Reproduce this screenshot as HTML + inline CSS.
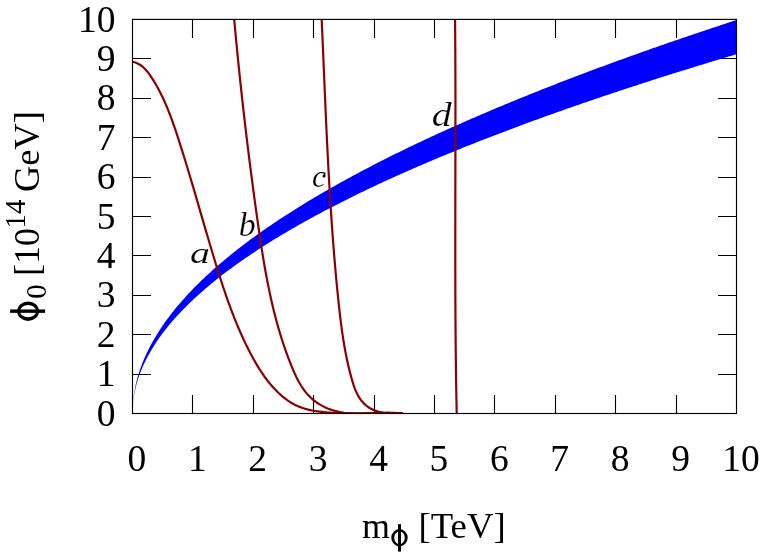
<!DOCTYPE html>
<html><head><meta charset="utf-8"><title>plot</title>
<style>
html,body{margin:0;padding:0;background:#fff;overflow:hidden;}
svg{display:block;will-change:transform;}
text{font-family:"Liberation Serif",serif;fill:#000;}
</style></head><body>
<svg width="763" height="558" viewBox="0 0 763 558">
<rect width="763" height="558" fill="#fff"/>
<path d="M192.5,413.5 v-18.5 M192.5,19.4 v18.5 M132.5,374.5 h18.5 M736.5,374.5 h-18.5 M253.5,413.5 v-18.5 M253.5,19.4 v18.5 M132.5,334.5 h18.5 M736.5,334.5 h-18.5 M313.5,413.5 v-18.5 M313.5,19.4 v18.5 M132.5,295.5 h18.5 M736.5,295.5 h-18.5 M374.5,413.5 v-18.5 M374.5,19.4 v18.5 M132.5,255.5 h18.5 M736.5,255.5 h-18.5 M434.5,413.5 v-18.5 M434.5,19.4 v18.5 M132.5,216.5 h18.5 M736.5,216.5 h-18.5 M494.5,413.5 v-18.5 M494.5,19.4 v18.5 M132.5,177.5 h18.5 M736.5,177.5 h-18.5 M555.5,413.5 v-18.5 M555.5,19.4 v18.5 M132.5,137.5 h18.5 M736.5,137.5 h-18.5 M615.5,413.5 v-18.5 M615.5,19.4 v18.5 M132.5,98.5 h18.5 M736.5,98.5 h-18.5 M676.5,413.5 v-18.5 M676.5,19.4 v18.5 M132.5,58.5 h18.5 M736.5,58.5 h-18.5" stroke="#000" stroke-width="1.1" fill="none"/>
<path d="M132.50,413.50 L132.81,404.59 L133.12,400.90 L133.43,398.07 L133.74,395.68 L134.05,393.58 L134.36,391.67 L134.67,389.93 L134.98,388.30 L135.29,386.77 L135.60,385.32 L135.91,383.95 L136.22,382.63 L136.53,381.37 L136.84,380.16 L137.15,378.99 L137.46,377.86 L137.77,376.76 L138.08,375.70 L138.39,374.66 L138.69,373.65 L139.00,372.67 L139.31,371.71 L139.62,370.77 L139.93,369.85 L140.24,368.95 L140.55,368.07 L140.86,367.20 L141.17,366.35 L141.48,365.52 L141.79,364.70 L142.10,363.89 L142.41,363.10 L142.72,362.31 L143.03,361.54 L143.34,360.79 L143.65,360.04 L143.96,359.30 L144.27,358.57 L144.58,357.86 L146.56,353.47 L148.54,349.38 L150.52,345.54 L152.50,341.90 L154.48,338.44 L156.46,335.14 L158.44,331.96 L160.42,328.91 L162.40,325.96 L164.38,323.11 L166.36,320.34 L168.34,317.66 L170.32,315.05 L172.30,312.50 L174.27,310.02 L176.25,307.60 L178.23,305.23 L180.21,302.91 L182.19,300.64 L184.17,298.41 L186.15,296.23 L188.13,294.09 L190.11,291.98 L192.09,289.91 L194.07,287.87 L196.05,285.87 L198.03,283.90 L200.01,281.95 L201.99,280.04 L203.97,278.15 L205.95,276.29 L207.93,274.45 L209.91,272.64 L211.89,270.85 L213.87,269.08 L215.85,267.34 L217.83,265.61 L219.81,263.91 L221.79,262.22 L223.77,260.55 L225.75,258.90 L227.73,257.27 L229.71,255.65 L231.69,254.05 L233.66,252.47 L235.64,250.90 L237.62,249.35 L239.60,247.81 L241.58,246.29 L243.56,244.78 L245.54,243.28 L247.52,241.80 L249.50,240.32 L251.48,238.87 L253.46,237.42 L255.44,235.98 L257.42,234.56 L259.40,233.15 L261.38,231.75 L263.36,230.36 L265.34,228.98 L267.32,227.61 L269.30,226.25 L271.28,224.90 L273.26,223.56 L275.24,222.22 L277.22,220.90 L279.20,219.59 L281.18,218.29 L283.16,216.99 L285.14,215.70 L287.12,214.42 L289.10,213.15 L291.08,211.89 L293.05,210.64 L295.03,209.39 L297.01,208.15 L298.99,206.92 L300.97,205.70 L302.95,204.48 L304.93,203.27 L306.91,202.06 L308.89,200.87 L310.87,199.68 L312.85,198.49 L314.83,197.32 L316.81,196.15 L318.79,194.98 L320.77,193.82 L322.75,192.67 L324.73,191.53 L326.71,190.39 L328.69,189.25 L330.67,188.12 L332.65,187.00 L334.63,185.88 L336.61,184.77 L338.59,183.67 L340.57,182.56 L342.55,181.47 L344.53,180.38 L346.51,179.29 L348.49,178.21 L350.47,177.13 L352.44,176.06 L354.42,175.00 L356.40,173.94 L358.38,172.88 L360.36,171.83 L362.34,170.78 L364.32,169.74 L366.30,168.70 L368.28,167.66 L370.26,166.63 L372.24,165.61 L374.22,164.59 L376.20,163.57 L378.18,162.56 L380.16,161.55 L382.14,160.54 L384.12,159.54 L386.10,158.54 L388.08,157.55 L390.06,156.56 L392.04,155.58 L394.02,154.59 L396.00,153.62 L397.98,152.64 L399.96,151.67 L401.94,150.70 L403.92,149.74 L405.90,148.78 L407.88,147.82 L409.86,146.87 L411.83,145.92 L413.81,144.97 L415.79,144.03 L417.77,143.09 L419.75,142.15 L421.73,141.22 L423.71,140.29 L425.69,139.36 L427.67,138.44 L429.65,137.52 L431.63,136.60 L433.61,135.69 L435.59,134.77 L437.57,133.87 L439.55,132.96 L441.53,132.06 L443.51,131.16 L445.49,130.26 L447.47,129.37 L449.45,128.47 L451.43,127.59 L453.41,126.70 L455.39,125.82 L457.37,124.94 L459.35,124.06 L461.33,123.18 L463.31,122.31 L465.29,121.44 L467.27,120.57 L469.25,119.71 L471.22,118.85 L473.20,117.99 L475.18,117.13 L477.16,116.27 L479.14,115.42 L481.12,114.57 L483.10,113.72 L485.08,112.88 L487.06,112.04 L489.04,111.20 L491.02,110.36 L493.00,109.52 L494.98,108.69 L496.96,107.86 L498.94,107.03 L500.92,106.20 L502.90,105.38 L504.88,104.55 L506.86,103.73 L508.84,102.92 L510.82,102.10 L512.80,101.29 L514.78,100.47 L516.76,99.67 L518.74,98.86 L520.72,98.05 L522.70,97.25 L524.68,96.45 L526.66,95.65 L528.64,94.85 L530.61,94.06 L532.59,93.26 L534.57,92.47 L536.55,91.68 L538.53,90.90 L540.51,90.11 L542.49,89.33 L544.47,88.54 L546.45,87.76 L548.43,86.99 L550.41,86.21 L552.39,85.44 L554.37,84.66 L556.35,83.89 L558.33,83.12 L560.31,82.36 L562.29,81.59 L564.27,80.83 L566.25,80.07 L568.23,79.31 L570.21,78.55 L572.19,77.79 L574.17,77.04 L576.15,76.28 L578.13,75.53 L580.11,74.78 L582.09,74.03 L584.07,73.29 L586.05,72.54 L588.03,71.80 L590.00,71.06 L591.98,70.32 L593.96,69.58 L595.94,68.84 L597.92,68.11 L599.90,67.37 L601.88,66.64 L603.86,65.91 L605.84,65.18 L607.82,64.45 L609.80,63.73 L611.78,63.00 L613.76,62.28 L615.74,61.56 L617.72,60.84 L619.70,60.12 L621.68,59.40 L623.66,58.69 L625.64,57.97 L627.62,57.26 L629.60,56.55 L631.58,55.84 L633.56,55.13 L635.54,54.42 L637.52,53.72 L639.50,53.01 L641.48,52.31 L643.46,51.61 L645.44,50.91 L647.42,50.21 L649.39,49.51 L651.37,48.81 L653.35,48.12 L655.33,47.42 L657.31,46.73 L659.29,46.04 L661.27,45.35 L663.25,44.66 L665.23,43.97 L667.21,43.29 L669.19,42.60 L671.17,41.92 L673.15,41.24 L675.13,40.56 L677.11,39.88 L679.09,39.20 L681.07,38.52 L683.05,37.85 L685.03,37.17 L687.01,36.50 L688.99,35.83 L690.97,35.15 L692.95,34.48 L694.93,33.82 L696.91,33.15 L698.89,32.48 L700.87,31.82 L702.85,31.15 L704.83,30.49 L706.81,29.83 L708.78,29.17 L710.76,28.51 L712.74,27.85 L714.72,27.19 L716.70,26.53 L718.68,25.88 L720.66,25.23 L722.64,24.57 L724.62,23.92 L726.60,23.27 L728.58,22.62 L730.56,21.97 L732.54,21.32 L734.52,20.68 L736.50,20.03 L736.50,54.23 L734.52,54.82 L732.54,55.41 L730.56,56.00 L728.58,56.59 L726.60,57.19 L724.62,57.78 L722.64,58.38 L720.66,58.97 L718.68,59.57 L716.70,60.17 L714.72,60.77 L712.74,61.37 L710.76,61.97 L708.78,62.57 L706.81,63.17 L704.83,63.78 L702.85,64.38 L700.87,64.99 L698.89,65.60 L696.91,66.20 L694.93,66.81 L692.95,67.43 L690.97,68.04 L688.99,68.65 L687.01,69.26 L685.03,69.88 L683.05,70.49 L681.07,71.11 L679.09,71.73 L677.11,72.35 L675.13,72.97 L673.15,73.59 L671.17,74.22 L669.19,74.84 L667.21,75.46 L665.23,76.09 L663.25,76.72 L661.27,77.35 L659.29,77.98 L657.31,78.61 L655.33,79.24 L653.35,79.87 L651.37,80.51 L649.39,81.14 L647.42,81.78 L645.44,82.42 L643.46,83.06 L641.48,83.70 L639.50,84.34 L637.52,84.98 L635.54,85.63 L633.56,86.28 L631.58,86.92 L629.60,87.57 L627.62,88.22 L625.64,88.87 L623.66,89.52 L621.68,90.18 L619.70,90.83 L617.72,91.49 L615.74,92.15 L613.76,92.80 L611.78,93.46 L609.80,94.13 L607.82,94.79 L605.84,95.45 L603.86,96.12 L601.88,96.79 L599.90,97.46 L597.92,98.13 L595.94,98.80 L593.96,99.47 L591.98,100.14 L590.00,100.82 L588.03,101.50 L586.05,102.18 L584.07,102.86 L582.09,103.54 L580.11,104.22 L578.13,104.91 L576.15,105.59 L574.17,106.28 L572.19,106.97 L570.21,107.66 L568.23,108.35 L566.25,109.05 L564.27,109.74 L562.29,110.44 L560.31,111.14 L558.33,111.84 L556.35,112.54 L554.37,113.24 L552.39,113.95 L550.41,114.66 L548.43,115.36 L546.45,116.07 L544.47,116.79 L542.49,117.50 L540.51,118.22 L538.53,118.93 L536.55,119.65 L534.57,120.37 L532.59,121.10 L530.61,121.82 L528.64,122.55 L526.66,123.27 L524.68,124.00 L522.70,124.74 L520.72,125.47 L518.74,126.20 L516.76,126.94 L514.78,127.68 L512.80,128.42 L510.82,129.16 L508.84,129.91 L506.86,130.66 L504.88,131.41 L502.90,132.16 L500.92,132.91 L498.94,133.66 L496.96,134.42 L494.98,135.18 L493.00,135.94 L491.02,136.70 L489.04,137.47 L487.06,138.24 L485.08,139.01 L483.10,139.78 L481.12,140.55 L479.14,141.33 L477.16,142.11 L475.18,142.89 L473.20,143.67 L471.22,144.45 L469.25,145.24 L467.27,146.03 L465.29,146.82 L463.31,147.62 L461.33,148.41 L459.35,149.21 L457.37,150.02 L455.39,150.82 L453.41,151.63 L451.43,152.43 L449.45,153.25 L447.47,154.06 L445.49,154.88 L443.51,155.70 L441.53,156.52 L439.55,157.34 L437.57,158.17 L435.59,159.00 L433.61,159.83 L431.63,160.67 L429.65,161.51 L427.67,162.35 L425.69,163.19 L423.71,164.04 L421.73,164.89 L419.75,165.74 L417.77,166.59 L415.79,167.45 L413.81,168.31 L411.83,169.18 L409.86,170.04 L407.88,170.91 L405.90,171.79 L403.92,172.66 L401.94,173.54 L399.96,174.43 L397.98,175.31 L396.00,176.20 L394.02,177.10 L392.04,177.99 L390.06,178.89 L388.08,179.80 L386.10,180.70 L384.12,181.61 L382.14,182.53 L380.16,183.45 L378.18,184.37 L376.20,185.29 L374.22,186.22 L372.24,187.15 L370.26,188.09 L368.28,189.03 L366.30,189.97 L364.32,190.92 L362.34,191.88 L360.36,192.83 L358.38,193.79 L356.40,194.76 L354.42,195.73 L352.44,196.70 L350.47,197.68 L348.49,198.66 L346.51,199.65 L344.53,200.64 L342.55,201.63 L340.57,202.64 L338.59,203.64 L336.61,204.65 L334.63,205.67 L332.65,206.69 L330.67,207.71 L328.69,208.74 L326.71,209.78 L324.73,210.82 L322.75,211.87 L320.77,212.92 L318.79,213.97 L316.81,215.04 L314.83,216.11 L312.85,217.18 L310.87,218.26 L308.89,219.35 L306.91,220.44 L304.93,221.54 L302.95,222.64 L300.97,223.76 L298.99,224.87 L297.01,226.00 L295.03,227.13 L293.05,228.27 L291.08,229.41 L289.10,230.57 L287.12,231.73 L285.14,232.89 L283.16,234.07 L281.18,235.25 L279.20,236.44 L277.22,237.64 L275.24,238.85 L273.26,240.06 L271.28,241.29 L269.30,242.52 L267.32,243.76 L265.34,245.01 L263.36,246.27 L261.38,247.54 L259.40,248.82 L257.42,250.11 L255.44,251.41 L253.46,252.72 L251.48,254.04 L249.50,255.38 L247.52,256.72 L245.54,258.07 L243.56,259.44 L241.58,260.82 L239.60,262.21 L237.62,263.62 L235.64,265.03 L233.66,266.47 L231.69,267.91 L229.71,269.37 L227.73,270.85 L225.75,272.34 L223.77,273.84 L221.79,275.37 L219.81,276.91 L217.83,278.46 L215.85,280.04 L213.87,281.63 L211.89,283.25 L209.91,284.88 L207.93,286.54 L205.95,288.22 L203.97,289.92 L201.99,291.64 L200.01,293.39 L198.03,295.16 L196.05,296.96 L194.07,298.79 L192.09,300.65 L190.11,302.54 L188.13,304.46 L186.15,306.42 L184.17,308.42 L182.19,310.45 L180.21,312.52 L178.23,314.64 L176.25,316.80 L174.27,319.02 L172.30,321.28 L170.32,323.60 L168.34,325.99 L166.36,328.44 L164.38,330.96 L162.40,333.57 L160.42,336.26 L158.44,339.05 L156.46,341.95 L154.48,344.97 L152.50,348.13 L150.52,351.45 L148.54,354.95 L146.56,358.69 L144.58,362.69 L144.27,363.35 L143.96,364.01 L143.65,364.68 L143.34,365.37 L143.03,366.06 L142.72,366.76 L142.41,367.48 L142.10,368.20 L141.79,368.94 L141.48,369.69 L141.17,370.45 L140.86,371.22 L140.55,372.02 L140.24,372.82 L139.93,373.64 L139.62,374.48 L139.31,375.34 L139.00,376.22 L138.69,377.12 L138.39,378.04 L138.08,378.98 L137.77,379.95 L137.46,380.96 L137.15,381.99 L136.84,383.06 L136.53,384.17 L136.22,385.32 L135.91,386.52 L135.60,387.77 L135.29,389.09 L134.98,390.49 L134.67,391.97 L134.36,393.57 L134.05,395.31 L133.74,397.23 L133.43,399.41 L133.12,401.99 L132.81,405.36 L132.50,413.50 Z" fill="#0000ff"/>
<clipPath id="pc"><rect x="132.5" y="19.4" width="604.0" height="394.1"/></clipPath>
<g clip-path="url(#pc)">
<path d="M132.44,61.74 L134.61,62.30 L136.63,63.04 L138.52,63.95 L140.29,65.01 L141.95,66.20 L143.51,67.51 L144.97,68.93 L146.36,70.44 L147.68,72.02 L148.93,73.67 L150.14,75.37 L151.30,77.10 L152.44,78.84 L153.55,80.61 L154.63,82.38 L155.69,84.17 L156.72,85.97 L157.73,87.79 L158.72,89.61 L159.69,91.45 L160.63,93.30 L161.55,95.15 L162.46,97.02 L163.34,98.90 L164.20,100.79 L165.05,102.69 L165.88,104.59 L166.69,106.51 L167.49,108.43 L168.28,110.36 L169.04,112.29 L169.80,114.23 L170.54,116.18 L171.27,118.14 L171.99,120.10 L172.70,122.06 L173.39,124.03 L174.08,126.00 L174.76,127.97 L175.43,129.95 L176.10,131.93 L176.76,133.92 L177.41,135.90 L178.06,137.89 L178.70,139.87 L179.34,141.86 L179.98,143.85 L180.61,145.84 L181.24,147.83 L181.87,149.82 L182.50,151.81 L183.12,153.80 L183.74,155.79 L184.35,157.78 L184.97,159.77 L185.58,161.76 L186.19,163.75 L186.79,165.74 L187.40,167.74 L188.00,169.73 L188.60,171.72 L189.20,173.71 L189.80,175.71 L190.39,177.70 L190.99,179.70 L191.58,181.69 L192.17,183.68 L192.76,185.68 L193.34,187.67 L193.93,189.67 L194.52,191.66 L195.10,193.66 L195.68,195.65 L196.27,197.65 L196.85,199.64 L197.43,201.64 L198.01,203.63 L198.59,205.63 L199.17,207.63 L199.75,209.62 L200.33,211.62 L200.91,213.61 L201.49,215.61 L202.07,217.60 L202.65,219.60 L203.23,221.59 L203.81,223.59 L204.40,225.58 L204.98,227.58 L205.56,229.57 L206.14,231.57 L206.73,233.56 L207.32,235.56 L207.90,237.55 L208.49,239.55 L209.08,241.54 L209.67,243.54 L210.26,245.53 L210.86,247.52 L211.45,249.52 L212.05,251.51 L212.65,253.50 L213.25,255.49 L213.85,257.49 L214.46,259.48 L215.06,261.47 L215.67,263.46 L216.29,265.45 L216.90,267.44 L217.52,269.43 L218.14,271.42 L218.77,273.41 L219.39,275.39 L220.03,277.38 L220.66,279.36 L221.30,281.34 L221.95,283.32 L222.60,285.30 L223.26,287.28 L223.92,289.26 L224.58,291.23 L225.26,293.20 L225.93,295.17 L226.62,297.14 L227.31,299.10 L228.00,301.06 L228.71,303.02 L229.42,304.98 L230.14,306.93 L230.86,308.88 L231.59,310.83 L232.34,312.77 L233.08,314.72 L233.84,316.65 L234.61,318.59 L235.38,320.52 L236.16,322.44 L236.96,324.37 L237.76,326.28 L238.57,328.20 L239.39,330.11 L240.22,332.01 L241.07,333.92 L241.92,335.81 L242.78,337.71 L243.65,339.59 L244.54,341.47 L245.44,343.35 L246.34,345.22 L247.26,347.09 L248.20,348.95 L249.14,350.81 L250.10,352.66 L251.06,354.50 L252.05,356.34 L253.04,358.17 L254.05,360.00 L255.08,361.81 L256.13,363.62 L257.19,365.41 L258.27,367.19 L259.37,368.96 L260.49,370.72 L261.63,372.46 L262.80,374.18 L263.99,375.89 L265.20,377.58 L266.44,379.25 L267.71,380.90 L269.00,382.53 L270.32,384.14 L271.67,385.72 L273.06,387.28 L274.47,388.82 L275.92,390.33 L277.39,391.81 L278.90,393.26 L280.45,394.67 L282.02,396.04 L283.63,397.37 L285.27,398.65 L286.94,399.89 L288.65,401.07 L290.38,402.20 L292.15,403.26 L293.96,404.26 L295.79,405.20 L297.66,406.07 L299.57,406.86 L301.50,407.59 L303.46,408.25 L305.44,408.85 L307.45,409.39 L309.48,409.88 L311.52,410.32 L313.58,410.71 L315.65,411.06 L317.72,411.37 L319.81,411.65 L321.89,411.90 L323.98,412.12 L326.06,412.32 L328.14,412.50 L330.23,412.66 L332.31,412.80 L334.39,412.92 L336.46,413.02 L338.54,413.11 L340.62,413.18 L342.70,413.24 L344.77,413.28 L346.85,413.31 L348.92,413.33 L350.99,413.34 L353.07,413.34 L355.14,413.34 L357.22,413.33 L359.29,413.31 L361.36,413.29 L363.44,413.26 L365.51,413.23 L367.59,413.20 L369.66,413.18 L371.74,413.15 L373.81,413.12 L375.89,413.10 L377.97,413.08 L380.05,413.07 L382.13,413.06 L384.21,413.07 L386.29,413.08 L388.37,413.10 L390.46,413.13 L392.54,413.17 L394.63,413.23 L396.72,413.30 L398.81,413.38 L400.91,413.49 L403.00,413.61" fill="none" stroke="#8b0000" stroke-width="2.2" stroke-linejoin="round"/>
<path d="M234.20,19.38 L234.38,21.40 L234.57,23.43 L234.75,25.46 L234.94,27.48 L235.13,29.51 L235.32,31.54 L235.51,33.56 L235.70,35.59 L235.89,37.61 L236.08,39.64 L236.28,41.66 L236.47,43.68 L236.67,45.71 L236.86,47.73 L237.06,49.76 L237.26,51.78 L237.46,53.80 L237.66,55.83 L237.86,57.85 L238.07,59.87 L238.27,61.89 L238.48,63.91 L238.68,65.94 L238.89,67.96 L239.10,69.98 L239.31,72.00 L239.52,74.02 L239.73,76.04 L239.94,78.06 L240.15,80.08 L240.37,82.10 L240.58,84.12 L240.80,86.14 L241.01,88.16 L241.23,90.18 L241.45,92.20 L241.67,94.22 L241.89,96.24 L242.12,98.26 L242.34,100.28 L242.56,102.30 L242.79,104.31 L243.01,106.33 L243.24,108.35 L243.47,110.37 L243.70,112.39 L243.93,114.40 L244.16,116.42 L244.39,118.44 L244.63,120.45 L244.86,122.47 L245.10,124.49 L245.33,126.51 L245.57,128.52 L245.81,130.54 L246.05,132.55 L246.29,134.57 L246.53,136.59 L246.77,138.60 L247.02,140.62 L247.26,142.63 L247.51,144.65 L247.75,146.67 L248.00,148.68 L248.25,150.70 L248.50,152.71 L248.75,154.73 L249.00,156.74 L249.26,158.76 L249.51,160.77 L249.77,162.79 L250.02,164.80 L250.28,166.82 L250.54,168.83 L250.80,170.85 L251.06,172.86 L251.32,174.88 L251.58,176.89 L251.84,178.91 L252.11,180.92 L252.37,182.93 L252.64,184.95 L252.91,186.96 L253.18,188.98 L253.45,190.99 L253.72,193.01 L253.99,195.02 L254.26,197.03 L254.54,199.05 L254.81,201.06 L255.09,203.08 L255.36,205.09 L255.64,207.10 L255.92,209.12 L256.20,211.13 L256.48,213.15 L256.77,215.16 L257.05,217.18 L257.33,219.19 L257.62,221.20 L257.91,223.22 L258.20,225.23 L258.48,227.25 L258.78,229.26 L259.07,231.27 L259.36,233.29 L259.66,235.30 L259.96,237.31 L260.26,239.32 L260.56,241.34 L260.87,243.35 L261.18,245.36 L261.49,247.37 L261.81,249.38 L262.13,251.39 L262.45,253.40 L262.77,255.41 L263.10,257.41 L263.44,259.42 L263.77,261.43 L264.12,263.43 L264.46,265.43 L264.81,267.44 L265.16,269.44 L265.52,271.44 L265.89,273.44 L266.26,275.44 L266.63,277.43 L267.01,279.43 L267.40,281.43 L267.79,283.42 L268.18,285.41 L268.59,287.40 L268.99,289.39 L269.41,291.38 L269.83,293.36 L270.26,295.35 L270.69,297.33 L271.13,299.31 L271.58,301.29 L272.04,303.27 L272.50,305.25 L272.97,307.22 L273.45,309.19 L273.93,311.16 L274.42,313.13 L274.92,315.10 L275.43,317.06 L275.95,319.03 L276.48,320.99 L277.01,322.94 L277.55,324.90 L278.11,326.85 L278.67,328.80 L279.24,330.75 L279.82,332.70 L280.41,334.64 L281.01,336.58 L281.61,338.52 L282.23,340.46 L282.86,342.39 L283.50,344.32 L284.15,346.25 L284.81,348.18 L285.48,350.10 L286.16,352.02 L286.85,353.94 L287.56,355.85 L288.27,357.76 L289.00,359.67 L289.74,361.57 L290.49,363.47 L291.25,365.37 L292.02,367.27 L292.81,369.16 L293.61,371.04 L294.43,372.92 L295.28,374.78 L296.15,376.63 L297.05,378.46 L297.98,380.26 L298.94,382.05 L299.95,383.80 L300.99,385.53 L302.08,387.23 L303.21,388.89 L304.40,390.51 L305.64,392.10 L306.94,393.64 L308.29,395.13 L309.70,396.57 L311.16,397.97 L312.67,399.31 L314.24,400.59 L315.86,401.82 L317.52,402.98 L319.23,404.09 L320.98,405.13 L322.76,406.12 L324.58,407.04 L326.43,407.89 L328.31,408.68 L330.21,409.41 L332.14,410.07 L334.09,410.66 L336.05,411.19 L338.03,411.67 L340.02,412.08 L342.03,412.44 L344.04,412.75 L346.06,413.00 L348.09,413.21 L350.12,413.37 L352.15,413.49 L354.19,413.58 L356.23,413.63 L358.27,413.65 L360.32,413.64 L362.37,413.61 L364.42,413.56 L366.47,413.49 L368.52,413.41 L370.57,413.32 L372.61,413.23 L374.66,413.13 L376.71,413.04 L378.76,412.95 L380.80,412.87 L382.84,412.80 L384.88,412.75 L386.91,412.72 L388.94,412.71 L390.96,412.73 L392.98,412.78 L394.99,412.86 L397.00,412.98 L399.00,413.14 L401.00,413.34 L402.99,413.60" fill="none" stroke="#8b0000" stroke-width="2.2" stroke-linejoin="round"/>
<path d="M321.67,19.41 L321.76,21.21 L321.84,23.01 L321.92,24.80 L322.00,26.60 L322.08,28.40 L322.16,30.19 L322.23,31.99 L322.31,33.79 L322.39,35.58 L322.47,37.38 L322.55,39.18 L322.63,40.98 L322.70,42.77 L322.78,44.57 L322.86,46.37 L322.94,48.17 L323.01,49.97 L323.09,51.77 L323.17,53.56 L323.24,55.36 L323.32,57.16 L323.40,58.96 L323.47,60.76 L323.55,62.56 L323.63,64.36 L323.70,66.16 L323.78,67.96 L323.85,69.76 L323.93,71.56 L324.01,73.36 L324.08,75.16 L324.16,76.96 L324.24,78.76 L324.31,80.56 L324.39,82.36 L324.47,84.16 L324.54,85.96 L324.62,87.76 L324.70,89.56 L324.77,91.36 L324.85,93.16 L324.93,94.96 L325.01,96.76 L325.08,98.56 L325.16,100.36 L325.24,102.16 L325.32,103.97 L325.40,105.77 L325.48,107.57 L325.56,109.37 L325.64,111.17 L325.72,112.97 L325.80,114.77 L325.88,116.57 L325.96,118.38 L326.04,120.18 L326.12,121.98 L326.21,123.78 L326.29,125.58 L326.37,127.38 L326.46,129.18 L326.54,130.98 L326.62,132.79 L326.71,134.59 L326.79,136.39 L326.88,138.19 L326.97,139.99 L327.05,141.79 L327.14,143.59 L327.23,145.40 L327.32,147.20 L327.41,149.00 L327.50,150.80 L327.59,152.60 L327.68,154.40 L327.77,156.20 L327.86,158.00 L327.96,159.80 L328.05,161.61 L328.14,163.41 L328.24,165.21 L328.33,167.01 L328.43,168.81 L328.53,170.61 L328.63,172.41 L328.73,174.21 L328.82,176.01 L328.92,177.81 L329.03,179.61 L329.13,181.41 L329.23,183.21 L329.33,185.01 L329.44,186.81 L329.54,188.61 L329.65,190.41 L329.76,192.21 L329.87,194.01 L329.97,195.81 L330.08,197.61 L330.19,199.41 L330.31,201.21 L330.42,203.01 L330.53,204.81 L330.65,206.61 L330.76,208.41 L330.88,210.21 L331.00,212.00 L331.12,213.80 L331.24,215.60 L331.36,217.40 L331.48,219.20 L331.60,220.99 L331.73,222.79 L331.85,224.59 L331.98,226.39 L332.11,228.19 L332.24,229.98 L332.37,231.78 L332.50,233.58 L332.63,235.37 L332.76,237.17 L332.90,238.97 L333.04,240.76 L333.17,242.56 L333.31,244.35 L333.45,246.15 L333.59,247.95 L333.74,249.74 L333.88,251.54 L334.03,253.33 L334.17,255.13 L334.32,256.92 L334.47,258.71 L334.62,260.51 L334.77,262.30 L334.93,264.10 L335.08,265.89 L335.24,267.68 L335.40,269.48 L335.56,271.27 L335.72,273.06 L335.88,274.85 L336.05,276.65 L336.21,278.44 L336.38,280.23 L336.55,282.02 L336.72,283.81 L336.89,285.60 L337.06,287.39 L337.24,289.19 L337.42,290.98 L337.59,292.77 L337.77,294.56 L337.96,296.34 L338.14,298.13 L338.32,299.92 L338.51,301.71 L338.70,303.50 L338.89,305.29 L339.08,307.08 L339.28,308.86 L339.48,310.65 L339.68,312.44 L339.89,314.22 L340.10,316.01 L340.31,317.80 L340.53,319.58 L340.75,321.37 L340.97,323.15 L341.20,324.93 L341.44,326.72 L341.68,328.50 L341.93,330.28 L342.18,332.06 L342.44,333.85 L342.70,335.63 L342.97,337.41 L343.25,339.19 L343.53,340.96 L343.82,342.74 L344.12,344.52 L344.43,346.30 L344.74,348.07 L345.06,349.85 L345.39,351.62 L345.73,353.40 L346.08,355.17 L346.44,356.94 L346.80,358.72 L347.18,360.49 L347.56,362.26 L347.96,364.03 L348.37,365.79 L348.78,367.56 L349.21,369.33 L349.65,371.10 L350.09,372.86 L350.55,374.62 L351.03,376.39 L351.51,378.15 L352.01,379.91 L352.52,381.66 L353.06,383.41 L353.62,385.14 L354.22,386.86 L354.85,388.56 L355.52,390.23 L356.24,391.88 L357.01,393.50 L357.83,395.08 L358.71,396.62 L359.66,398.13 L360.67,399.59 L361.75,400.99 L362.90,402.34 L364.12,403.63 L365.41,404.84 L366.75,405.98 L368.17,407.03 L369.65,407.99 L371.19,408.85 L372.79,409.63 L374.43,410.31 L376.13,410.92 L377.86,411.45 L379.63,411.90 L381.42,412.29 L383.24,412.62 L385.08,412.89 L386.92,413.11 L388.78,413.28 L390.63,413.41 L392.47,413.50 L394.31,413.55 L396.13,413.58 L397.92,413.59 L399.69,413.57 L401.42,413.55 L403.11,413.51" fill="none" stroke="#8b0000" stroke-width="2.2" stroke-linejoin="round"/>
<path d="M455.06,19.40 L455.08,21.05 L455.09,22.70 L455.11,24.35 L455.12,25.99 L455.14,27.64 L455.15,29.29 L455.16,30.94 L455.17,32.58 L455.19,34.23 L455.20,35.88 L455.21,37.53 L455.22,39.18 L455.23,40.82 L455.24,42.47 L455.25,44.12 L455.26,45.77 L455.27,47.42 L455.28,49.07 L455.29,50.71 L455.30,52.36 L455.31,54.01 L455.32,55.66 L455.32,57.31 L455.33,58.95 L455.34,60.60 L455.34,62.25 L455.35,63.90 L455.36,65.55 L455.36,67.20 L455.37,68.84 L455.38,70.49 L455.38,72.14 L455.39,73.79 L455.39,75.44 L455.40,77.08 L455.40,78.73 L455.40,80.38 L455.41,82.03 L455.41,83.68 L455.42,85.33 L455.42,86.97 L455.42,88.62 L455.42,90.27 L455.43,91.92 L455.43,93.57 L455.43,95.22 L455.43,96.86 L455.44,98.51 L455.44,100.16 L455.44,101.81 L455.44,103.46 L455.44,105.11 L455.44,106.75 L455.44,108.40 L455.44,110.05 L455.44,111.70 L455.44,113.35 L455.44,115.00 L455.44,116.65 L455.44,118.29 L455.44,119.94 L455.44,121.59 L455.44,123.24 L455.44,124.89 L455.44,126.54 L455.44,128.18 L455.44,129.83 L455.44,131.48 L455.44,133.13 L455.43,134.78 L455.43,136.43 L455.43,138.08 L455.43,139.72 L455.43,141.37 L455.42,143.02 L455.42,144.67 L455.42,146.32 L455.42,147.97 L455.42,149.61 L455.41,151.26 L455.41,152.91 L455.41,154.56 L455.41,156.21 L455.40,157.86 L455.40,159.51 L455.40,161.15 L455.39,162.80 L455.39,164.45 L455.39,166.10 L455.39,167.75 L455.38,169.40 L455.38,171.05 L455.38,172.69 L455.37,174.34 L455.37,175.99 L455.37,177.64 L455.37,179.29 L455.36,180.94 L455.36,182.59 L455.36,184.23 L455.35,185.88 L455.35,187.53 L455.35,189.18 L455.34,190.83 L455.34,192.48 L455.34,194.13 L455.34,195.77 L455.33,197.42 L455.33,199.07 L455.33,200.72 L455.32,202.37 L455.32,204.02 L455.32,205.67 L455.32,207.31 L455.31,208.96 L455.31,210.61 L455.31,212.26 L455.31,213.91 L455.30,215.56 L455.30,217.21 L455.30,218.85 L455.30,220.50 L455.30,222.15 L455.29,223.80 L455.29,225.45 L455.29,227.10 L455.29,228.75 L455.29,230.39 L455.29,232.04 L455.29,233.69 L455.28,235.34 L455.28,236.99 L455.28,238.64 L455.28,240.28 L455.28,241.93 L455.28,243.58 L455.28,245.23 L455.28,246.88 L455.28,248.53 L455.28,250.18 L455.28,251.82 L455.28,253.47 L455.28,255.12 L455.28,256.77 L455.28,258.42 L455.29,260.07 L455.29,261.71 L455.29,263.36 L455.29,265.01 L455.29,266.66 L455.29,268.31 L455.30,269.96 L455.30,271.61 L455.30,273.25 L455.30,274.90 L455.31,276.55 L455.31,278.20 L455.32,279.85 L455.32,281.50 L455.32,283.14 L455.33,284.79 L455.33,286.44 L455.34,288.09 L455.34,289.74 L455.35,291.39 L455.35,293.03 L455.36,294.68 L455.36,296.33 L455.37,297.98 L455.38,299.63 L455.38,301.27 L455.39,302.92 L455.40,304.57 L455.41,306.22 L455.42,307.87 L455.42,309.52 L455.43,311.16 L455.44,312.81 L455.45,314.46 L455.46,316.11 L455.47,317.76 L455.48,319.41 L455.49,321.05 L455.50,322.70 L455.51,324.35 L455.52,326.00 L455.54,327.65 L455.55,329.29 L455.56,330.94 L455.57,332.59 L455.59,334.24 L455.60,335.89 L455.61,337.53 L455.63,339.18 L455.64,340.83 L455.66,342.48 L455.67,344.13 L455.69,345.77 L455.70,347.42 L455.72,349.07 L455.74,350.72 L455.76,352.37 L455.77,354.01 L455.79,355.66 L455.81,357.31 L455.83,358.96 L455.85,360.60 L455.87,362.25 L455.89,363.90 L455.91,365.55 L455.93,367.20 L455.95,368.84 L455.97,370.49 L455.99,372.14 L456.02,373.79 L456.04,375.43 L456.06,377.08 L456.09,378.73 L456.11,380.38 L456.14,382.03 L456.16,383.67 L456.19,385.32 L456.21,386.97 L456.24,388.62 L456.27,390.26 L456.30,391.91 L456.33,393.56 L456.35,395.21 L456.38,396.85 L456.41,398.50 L456.44,400.15 L456.47,401.80 L456.51,403.44 L456.54,405.09 L456.57,406.74 L456.60,408.39 L456.64,410.03 L456.67,411.68 L456.70,413.33" fill="none" stroke="#8b0000" stroke-width="2.2" stroke-linejoin="round"/>
</g>
<rect x="132.5" y="19.4" width="604.0" height="394.1" fill="none" stroke="#000" stroke-width="1.15"/>
<g font-size="37.5">
<text x="136.90" y="470.6" text-anchor="middle">0</text>
<text x="115.6" y="425.70" text-anchor="end">0</text>
<text x="197.30" y="470.6" text-anchor="middle">1</text>
<text x="115.6" y="386.29" text-anchor="end">1</text>
<text x="257.70" y="470.6" text-anchor="middle">2</text>
<text x="115.6" y="346.88" text-anchor="end">2</text>
<text x="318.10" y="470.6" text-anchor="middle">3</text>
<text x="115.6" y="307.47" text-anchor="end">3</text>
<text x="378.50" y="470.6" text-anchor="middle">4</text>
<text x="115.6" y="268.06" text-anchor="end">4</text>
<text x="438.90" y="470.6" text-anchor="middle">5</text>
<text x="115.6" y="228.65" text-anchor="end">5</text>
<text x="499.30" y="470.6" text-anchor="middle">6</text>
<text x="115.6" y="189.24" text-anchor="end">6</text>
<text x="559.70" y="470.6" text-anchor="middle">7</text>
<text x="115.6" y="149.83" text-anchor="end">7</text>
<text x="620.10" y="470.6" text-anchor="middle">8</text>
<text x="115.6" y="110.42" text-anchor="end">8</text>
<text x="680.50" y="470.6" text-anchor="middle">9</text>
<text x="115.6" y="71.01" text-anchor="end">9</text>
<text x="740.90" y="470.6" text-anchor="middle">10</text>
<text x="115.6" y="31.60" text-anchor="end">10</text>
</g>
<text transform="translate(189.91,262.69) scale(0.3999,0.3015)" font-size="100" font-style="italic" stroke="#fff" stroke-width="0.6">a</text>
<text transform="translate(238.65,235.78) scale(0.3375,0.3311)" font-size="100" font-style="italic" stroke="#fff" stroke-width="0.6">b</text>
<text transform="translate(312.02,186.69) scale(0.3181,0.3140)" font-size="100" font-style="italic" stroke="#fff" stroke-width="0.6">c</text>
<text transform="translate(431.79,125.66) scale(0.3982,0.3323)" font-size="100" font-style="italic" stroke="#fff" stroke-width="0.6">d</text>

<circle cx="324.0" cy="175.9" r="1.5" fill="#000"/>
<!-- x label -->
<g font-size="36">
<text x="361.9" y="537.7">m</text>
<text transform="translate(418.5,537.7) scale(1.02,1)">[TeV]</text>
</g>
<g transform="translate(399.5,537.75) rotate(0)"><path d="M-8.2,0 A8.2,8.65 0 1,0 8.2,0 A8.2,8.65 0 1,0 -8.2,0 Z M-5.3,0 A5.3,6.35 0 1,0 5.3,0 A5.3,6.35 0 1,0 -5.3,0 Z" fill="#000" fill-rule="evenodd"/><rect x="-1.5" y="-13.55" width="3.0" height="27.4" fill="#000"/></g>
<!-- y label -->
<g transform="translate(39.1,321.5) rotate(-90)" font-size="36">
<text x="22.8" y="7.1" font-size="28.8">0</text>
<text x="45.5" y="0">[10</text>
<text x="93.0" y="-14.1" font-size="28.8">14</text>
<text transform="translate(129.4,0) scale(1.012,1)">GeV]</text>
</g>
<g transform="translate(28.1,311.15) rotate(-90)"><path d="M-9.75,0 A9.75,10.9 0 1,0 9.75,0 A9.75,10.9 0 1,0 -9.75,0 Z M-6.05,0 A6.05,7.95 0 1,0 6.05,0 A6.05,7.95 0 1,0 -6.05,0 Z" fill="#000" fill-rule="evenodd"/><rect x="-1.7" y="-18" width="3.4" height="35" fill="#000"/></g>
</svg>
</body></html>
